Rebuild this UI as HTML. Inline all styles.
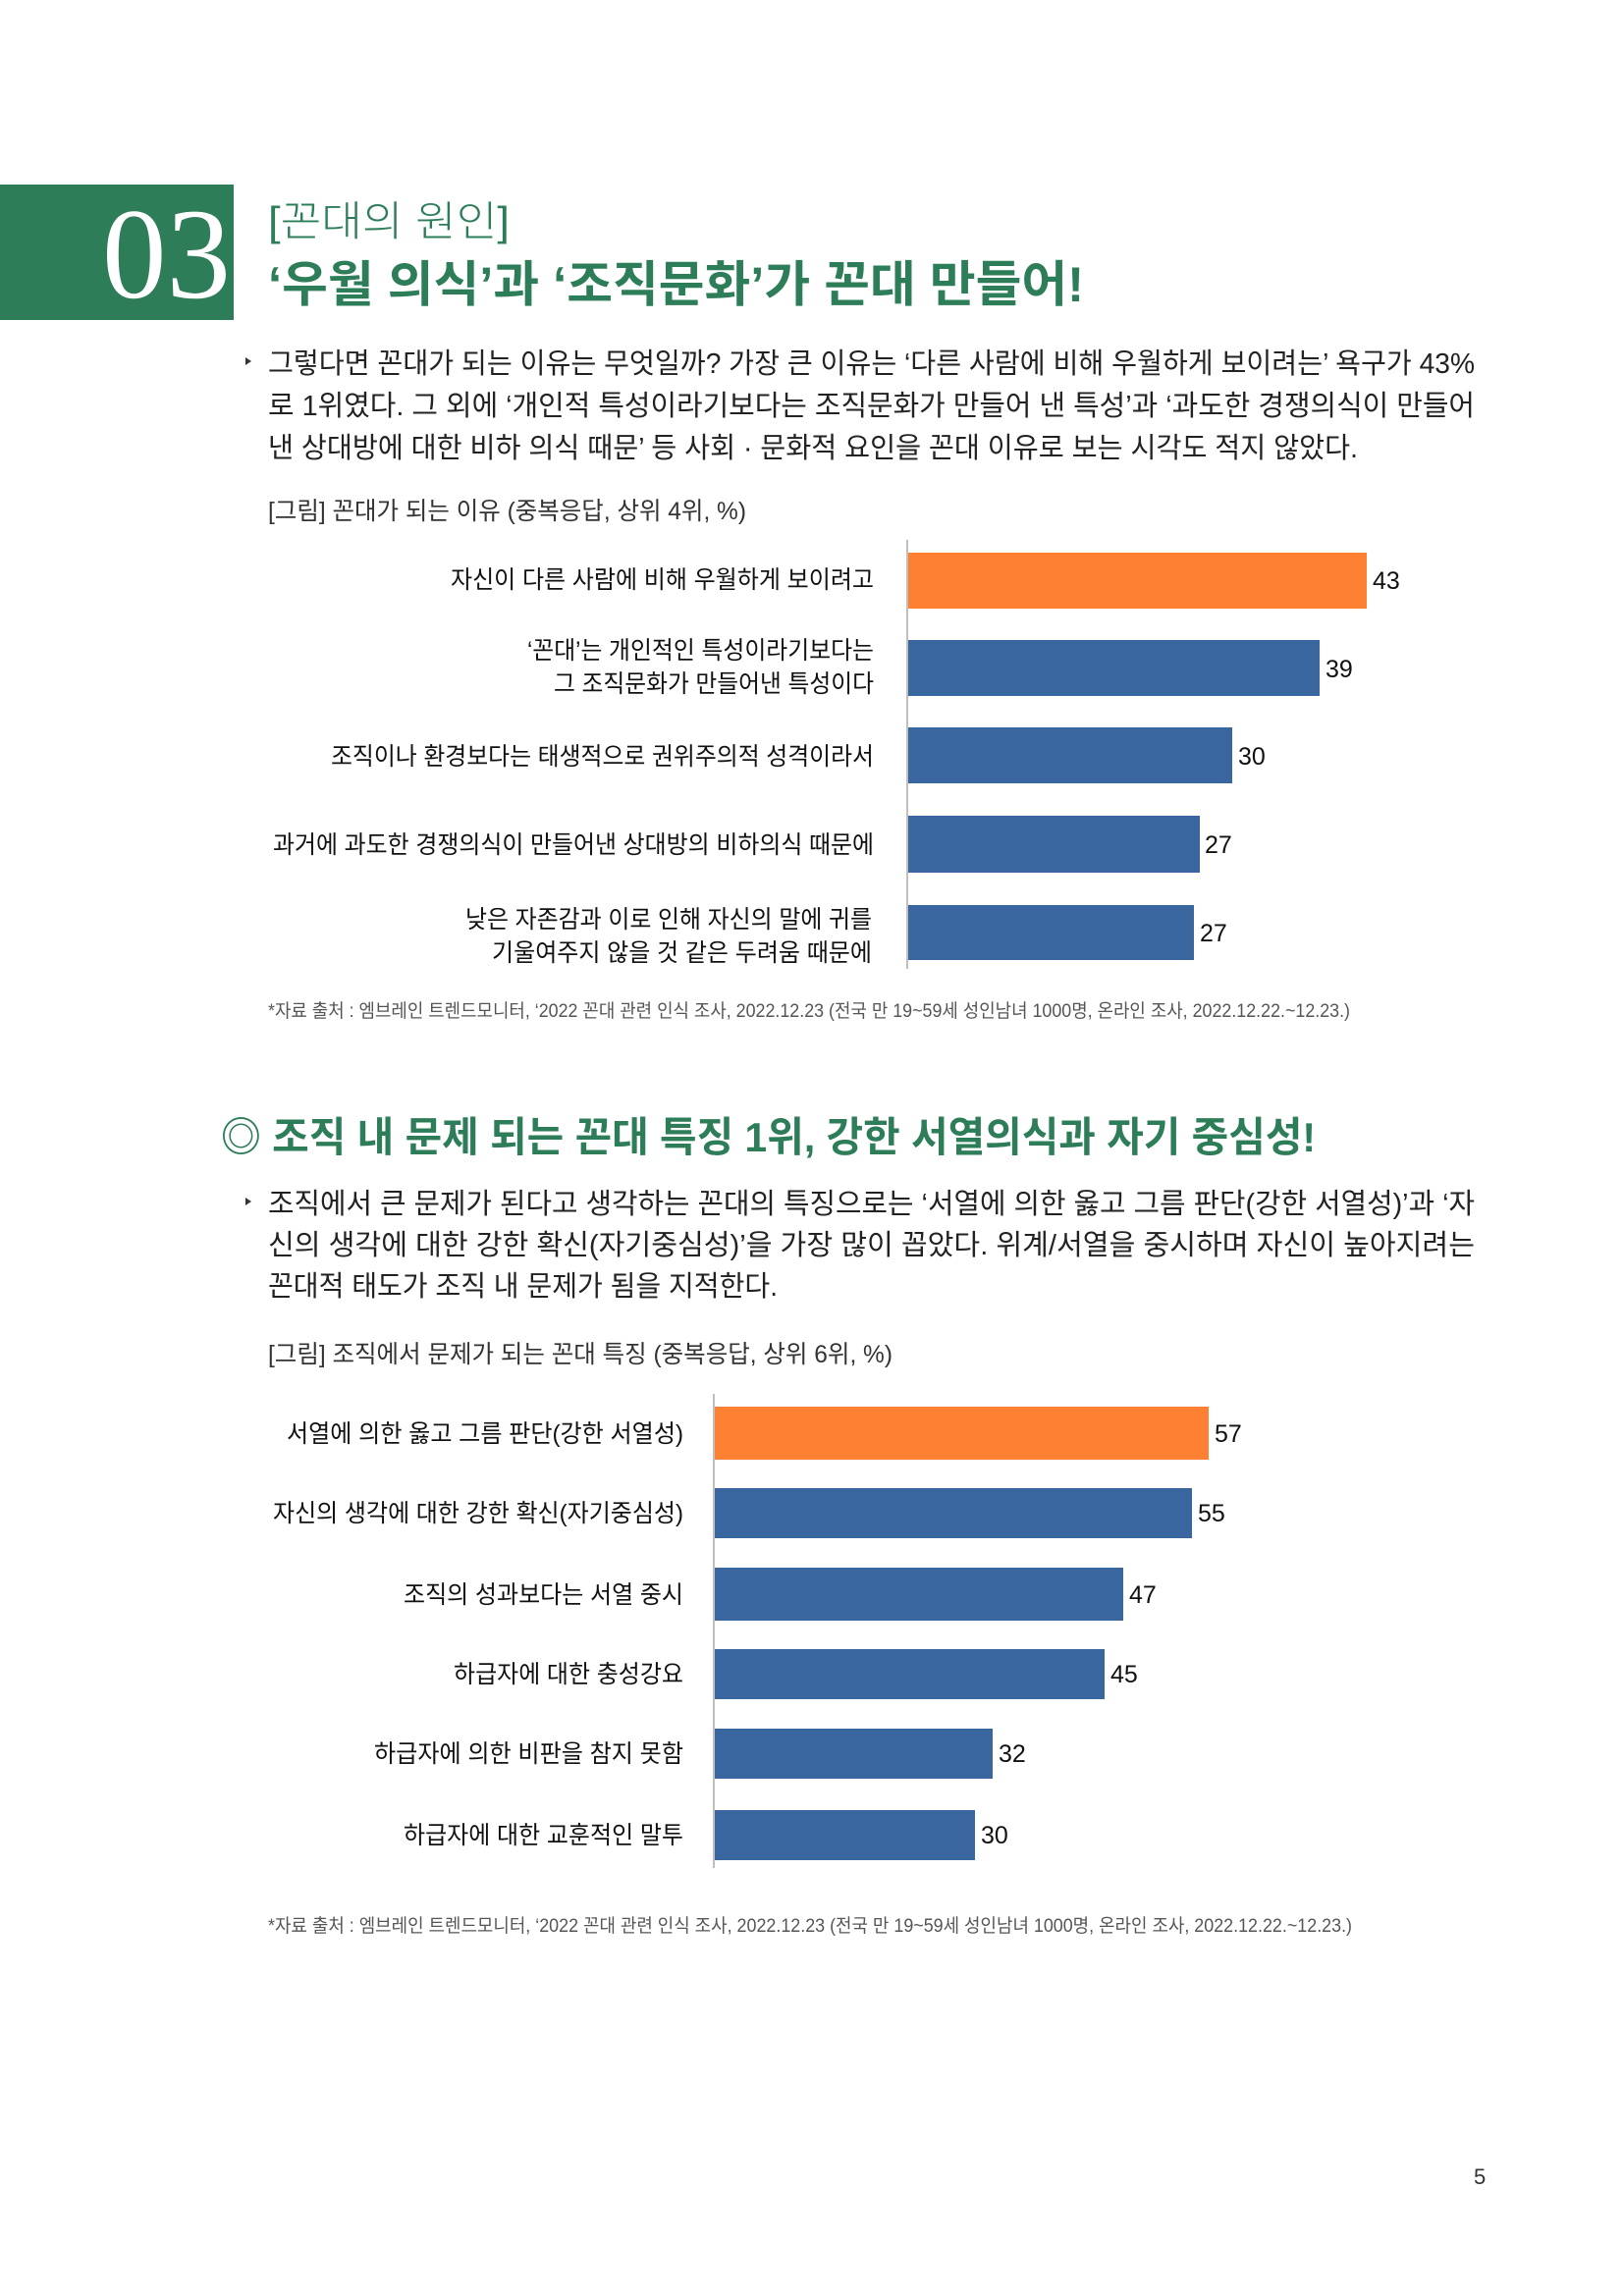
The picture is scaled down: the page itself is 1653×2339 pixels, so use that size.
<!DOCTYPE html>
<html><head><meta charset="utf-8"><style>html,body{margin:0;padding:0;background:#fff}svg{display:block}</style></head>
<body>
<svg width="1653" height="2339" viewBox="0 0 1653 2339" xmlns="http://www.w3.org/2000/svg" font-family="'Liberation Sans','Noto Sans CJK KR',sans-serif">
<rect width="1653" height="2339" fill="#fff"/>
<!-- header -->
<rect x="0" y="188" width="238" height="138" fill="#2e7d59"/>
<text x="104" y="303" font-family="'Liberation Serif',serif" font-size="132" fill="#fff" textLength="131" lengthAdjust="spacingAndGlyphs">03</text>
<text x="273" y="240" font-size="42" fill="#2e7d59" font-weight="300" textLength="246" lengthAdjust="spacingAndGlyphs">[꼰대의 원인]</text>
<text x="273" y="307" font-size="50" fill="#2e7d59" font-weight="bold" textLength="831" lengthAdjust="spacingAndGlyphs">‘우월 의식’과 ‘조직문화’가 꼰대 만들어!</text>

<polygon points="250,364 256,368 250,372" fill="#333"/>
<g font-size="29" fill="#222">
<text x="273" y="380" textLength="1229" lengthAdjust="spacingAndGlyphs">그렇다면 꼰대가 되는 이유는 무엇일까? 가장 큰 이유는 ‘다른 사람에 비해 우월하게 보이려는’ 욕구가 43%</text>
<text x="273" y="423" textLength="1229" lengthAdjust="spacingAndGlyphs">로 1위였다. 그 외에 ‘개인적 특성이라기보다는 조직문화가 만들어 낸 특성’과 ‘과도한 경쟁의식이 만들어</text>
<text x="273" y="466" textLength="1110" lengthAdjust="spacingAndGlyphs">낸 상대방에 대한 비하 의식 때문’ 등 사회 · 문화적 요인을 꼰대 이유로 보는 시각도 적지 않았다.</text>
</g>
<text x="273" y="529" font-size="25" fill="#333" textLength="487" lengthAdjust="spacingAndGlyphs">[그림] 꼰대가 되는 이유 (중복응답, 상위 4위, %)</text>

<!-- chart 1 -->
<line x1="924" y1="550" x2="924" y2="987" stroke="#aaa" stroke-width="1.5"/>
<rect x="925" y="563" width="467" height="57" fill="#fe8133"/>
<rect x="925" y="652" width="419" height="57" fill="#3a66a0"/>
<rect x="925" y="741" width="330" height="57" fill="#3a66a0"/>
<rect x="925" y="831" width="297" height="58" fill="#3a66a0"/>
<rect x="925" y="922" width="291" height="56" fill="#3a66a0"/>
<g font-size="25" fill="#111">
<text x="1398" y="600">43</text>
<text x="1350" y="690">39</text>
<text x="1261" y="779">30</text>
<text x="1227" y="869">27</text>
<text x="1222" y="959">27</text>
<text x="459" y="599" textLength="431" lengthAdjust="spacingAndGlyphs">자신이 다른 사람에 비해 우월하게 보이려고</text>
<text x="537" y="671" textLength="353" lengthAdjust="spacingAndGlyphs">‘꼰대’는 개인적인 특성이라기보다는</text>
<text x="564" y="705" textLength="326" lengthAdjust="spacingAndGlyphs">그 조직문화가 만들어낸 특성이다</text>
<text x="337" y="779" textLength="553" lengthAdjust="spacingAndGlyphs">조직이나 환경보다는 태생적으로 권위주의적 성격이라서</text>
<text x="278" y="869" textLength="612" lengthAdjust="spacingAndGlyphs">과거에 과도한 경쟁의식이 만들어낸 상대방의 비하의식 때문에</text>
<text x="474" y="945" textLength="414" lengthAdjust="spacingAndGlyphs">낮은 자존감과 이로 인해 자신의 말에 귀를</text>
<text x="501" y="979" textLength="387" lengthAdjust="spacingAndGlyphs">기울여주지 않을 것 같은 두려움 때문에</text>
</g>
<text x="273" y="1036" font-size="19" fill="#555" textLength="1102" lengthAdjust="spacingAndGlyphs">*자료 출처 : 엠브레인 트렌드모니터, ‘2022 꼰대 관련 인식 조사, 2022.12.23 (전국 만 19~59세 성인남녀 1000명, 온라인 조사, 2022.12.22.~12.23.)</text>

<!-- section 2 -->
<text x="225" y="1173" font-size="42" fill="#2e7d59" font-weight="bold" textLength="1115" lengthAdjust="spacingAndGlyphs">◎ 조직 내 문제 되는 꼰대 특징 1위, 강한 서열의식과 자기 중심성!</text>
<polygon points="250,1220 256,1224 250,1228" fill="#333"/>
<g font-size="29" fill="#222">
<text x="273" y="1236" textLength="1229" lengthAdjust="spacingAndGlyphs">조직에서 큰 문제가 된다고 생각하는 꼰대의 특징으로는 ‘서열에 의한 옳고 그름 판단(강한 서열성)’과 ‘자</text>
<text x="273" y="1278" textLength="1229" lengthAdjust="spacingAndGlyphs">신의 생각에 대한 강한 확신(자기중심성)’을 가장 많이 꼽았다. 위계/서열을 중시하며 자신이 높아지려는</text>
<text x="273" y="1320" textLength="519" lengthAdjust="spacingAndGlyphs">꼰대적 태도가 조직 내 문제가 됨을 지적한다.</text>
</g>
<text x="273" y="1388" font-size="25" fill="#333" textLength="636" lengthAdjust="spacingAndGlyphs">[그림] 조직에서 문제가 되는 꼰대 특징 (중복응답, 상위 6위, %)</text>

<!-- chart 2 -->
<line x1="727" y1="1420" x2="727" y2="1903" stroke="#aaa" stroke-width="1.5"/>
<rect x="728" y="1433" width="503" height="54" fill="#fe8133"/>
<rect x="728" y="1516" width="486" height="51" fill="#3a66a0"/>
<rect x="728" y="1597" width="416" height="54" fill="#3a66a0"/>
<rect x="728" y="1680" width="397" height="51" fill="#3a66a0"/>
<rect x="728" y="1761" width="283" height="51" fill="#3a66a0"/>
<rect x="728" y="1844" width="265" height="51" fill="#3a66a0"/>
<g font-size="25" fill="#111">
<text x="1237" y="1469">57</text>
<text x="1220" y="1550">55</text>
<text x="1150" y="1633">47</text>
<text x="1131" y="1714">45</text>
<text x="1017" y="1795">32</text>
<text x="999" y="1878">30</text>
<text x="292" y="1469" textLength="404" lengthAdjust="spacingAndGlyphs">서열에 의한 옳고 그름 판단(강한 서열성)</text>
<text x="278" y="1550" textLength="418" lengthAdjust="spacingAndGlyphs">자신의 생각에 대한 강한 확신(자기중심성)</text>
<text x="411" y="1633" textLength="285" lengthAdjust="spacingAndGlyphs">조직의 성과보다는 서열 중시</text>
<text x="462" y="1714" textLength="234" lengthAdjust="spacingAndGlyphs">하급자에 대한 충성강요</text>
<text x="381" y="1795" textLength="315" lengthAdjust="spacingAndGlyphs">하급자에 의한 비판을 참지 못함</text>
<text x="411" y="1878" textLength="285" lengthAdjust="spacingAndGlyphs">하급자에 대한 교훈적인 말투</text>
</g>
<text x="273" y="1968" font-size="19" fill="#555" textLength="1104" lengthAdjust="spacingAndGlyphs">*자료 출처 : 엠브레인 트렌드모니터, ‘2022 꼰대 관련 인식 조사, 2022.12.23 (전국 만 19~59세 성인남녀 1000명, 온라인 조사, 2022.12.22.~12.23.)</text>

<text x="1501" y="2225" font-size="22" fill="#333">5</text>
</svg>
</body></html>
